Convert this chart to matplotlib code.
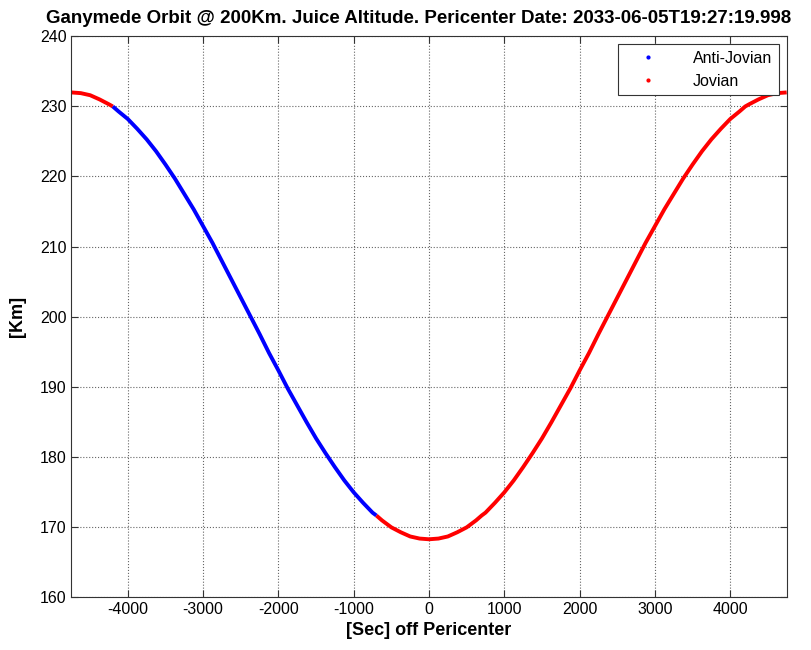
import numpy as np
import matplotlib.pyplot as plt
from matplotlib.lines import Line2D

plt.rcParams['font.family'] = ['Liberation Sans', 'DejaVu Sans']
plt.rcParams['axes.unicode_minus'] = False

# seconds off pericenter (right half) and altitude [km];
# the curve is symmetric around pericenter
t_half = [0, 125, 250, 375, 500, 625, 700, 750, 875, 1000, 1125, 1250, 1375, 1500,
          1625, 1750, 1875, 2000, 2125, 2250, 2375, 2500, 2625, 2750, 2875, 3000,
          3125, 3250, 3375, 3500, 3625, 3750, 3875, 4000, 4125, 4200, 4250, 4375,
          4500, 4625, 4750]
alt_half = [168.2, 168.3, 168.6, 169.2, 169.9, 170.9, 171.6, 172.0, 173.4, 174.9,
            176.6, 178.5, 180.5, 182.6, 184.9, 187.3, 189.7, 192.3, 194.8, 197.5,
            200.1, 202.7, 205.3, 207.9, 210.5, 212.9, 215.3, 217.5, 219.7, 221.7,
            223.6, 225.3, 226.8, 228.2, 229.3, 230.0, 230.3, 231.0, 231.6, 231.9, 232.0]
anti_start, anti_end = -4200, -700

t = np.concatenate([-np.array(t_half[:0:-1], dtype=float), np.array(t_half, dtype=float)])
alt = np.concatenate([np.array(alt_half[:0:-1]), np.array(alt_half)])
anti = (t >= anti_start) & (t <= anti_end)

fig = plt.figure(figsize=(8.11, 6.5), dpi=100)
ax = fig.add_axes([0.088, 0.082, 0.882, 0.862])

left = t <= anti_start
right = t >= anti_end
ax.plot(t[left], alt[left], color='red', lw=2.8, solid_capstyle='butt')
ax.plot(t[right], alt[right], color='red', lw=2.8, solid_capstyle='butt')
ax.plot(t[anti], alt[anti], color='blue', lw=2.8, solid_capstyle='butt')

ax.set_xlim(-4750, 4750)
ax.set_ylim(160, 240)
ax.set_xticks(np.arange(-4000, 4001, 1000))
ax.set_yticks(np.arange(160, 241, 10))
ax.grid(True, linestyle=':', color='#666666', lw=0.8)
ax.tick_params(direction='in', top=True, right=True, labelsize=11.5, length=5, color='#333333')
for s in ax.spines.values():
    s.set_color('#333333')

ax.set_xlabel('[Sec] off Pericenter', fontsize=13, fontweight='bold')
ax.set_ylabel('[Km]', fontsize=13, fontweight='bold', labelpad=10)
ax.set_title('Ganymede Orbit @ 200Km. Juice Altitude. Pericenter Date: 2033-06-05T19:27:19.998',
             fontsize=13.5, fontweight='bold', pad=10, x=0.486)

handles = [Line2D([], [], color='blue', marker='.', ls='none', markersize=4),
           Line2D([], [], color='red', marker='.', ls='none', markersize=4)]
leg = ax.legend(handles, ['Anti-Jovian', 'Jovian'], loc='upper right', fontsize=11.5,
                fancybox=False, framealpha=1, edgecolor='#333333',
                borderaxespad=0.5, handlelength=3, handletextpad=1.3)
leg.get_frame().set_linewidth(0.8)

fig.savefig('out.png', dpi=100)
